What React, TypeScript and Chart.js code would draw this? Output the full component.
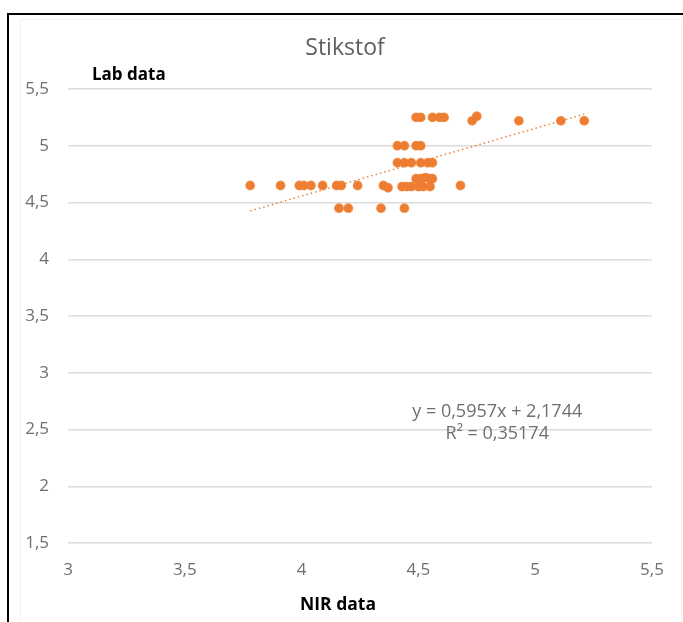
import React, { useEffect, useRef } from "react";
import { Chart, registerables } from "chart.js";

Chart.register(...registerables);

const TITLE = "Stikstof";
const X_TITLE = "NIR data";
const Y_TITLE = "Lab data";
const EQUATION = "y = 0,5957x + 2,1744";
const R_SQUARED = "R² = 0,35174";
const TREND_SLOPE = 0.5957;
const TREND_INTERCEPT = 2.1744;

const nirValues = [
  3.78, 3.91, 3.99, 4.01, 4.04, 4.09, 4.15, 4.17, 4.24, 4.35, 4.37, 4.43, 4.45, 4.47, 4.5, 4.52, 4.55, 4.68,
  4.16, 4.2, 4.34, 4.44,
  4.49, 4.51, 4.53, 4.55, 4.56,
  4.41, 4.44, 4.47, 4.51, 4.54, 4.56,
  4.41, 4.44, 4.49, 4.51,
  4.49, 4.51, 4.56, 4.59, 4.61, 4.75,
  4.73, 4.93, 5.11, 5.21,
];
const labValues = [
  4.65, 4.65, 4.65, 4.65, 4.65, 4.65, 4.65, 4.65, 4.65, 4.65, 4.63, 4.64, 4.64, 4.64, 4.64, 4.64, 4.64, 4.65,
  4.45, 4.45, 4.45, 4.45,
  4.71, 4.71, 4.72, 4.71, 4.71,
  4.85, 4.85, 4.85, 4.85, 4.85, 4.85,
  5.0, 5.0, 5.0, 5.0,
  5.25, 5.25, 5.25, 5.25, 5.25, 5.26,
  5.22, 5.22, 5.22, 5.22,
];

const X_MIN = 3;
const X_MAX = 5.5;
const Y_MIN = 1.5;
const Y_MAX = 5.5;
const TICK_STEP = 0.5;

const ORANGE = "#ED7D31";
const GREY_TEXT = "#6f6f6f";
const GRID = "#dcdcdc";

const fmt = (v: number) => String(v).replace(".", ",");

const textPlugin = {
  id: "extraTexts",
  afterDraw(chart: any) {
    const { ctx, chartArea } = chart;
    const { left, right, top, bottom } = chartArea;
    ctx.save();
    ctx.textBaseline = "middle";
    ctx.textAlign = "center";
    ctx.fillStyle = "#5f5f5f";
    ctx.font = '23px "Open Sans"';
    ctx.fillText(TITLE, (left + right) / 2 - 15, top - 41);
    ctx.fillStyle = "#000";
    ctx.font = 'bold 17px "Open Sans"';
    ctx.textAlign = "left";
    ctx.fillText(Y_TITLE, left + 24, top - 14);
    ctx.textAlign = "center";
    ctx.font = 'bold 17.5px "Open Sans"';
    ctx.fillText(X_TITLE, (left + right) / 2 - 22, bottom + 62);
    ctx.font = '18px "Open Sans"';
    ctx.fillStyle = GREY_TEXT;
    const cx = left + (right - left) * 0.735;
    ctx.fillText(EQUATION, cx, top + 323);
    ctx.fillText(R_SQUARED, cx, top + 345);
    ctx.restore();
  },
};

export default function App() {
  const ref = useRef<HTMLCanvasElement | null>(null);

  useEffect(() => {
    if (!ref.current) return;
    const points = nirValues.map((x, i) => ({ x, y: labValues[i] }));
    const xLo = Math.min(...nirValues);
    const xHi = Math.max(...nirValues);
    const trend = [
      { x: xLo, y: TREND_SLOPE * xLo + TREND_INTERCEPT },
      { x: xHi, y: TREND_SLOPE * xHi + TREND_INTERCEPT },
    ];
    const chart = new Chart(ref.current, {
      type: "scatter",
      data: {
        datasets: [
          {
            type: "line",
            label: "Trend",
            data: trend,
            borderColor: ORANGE,
            borderWidth: 1.5,
            borderDash: [1.5, 3],
            pointRadius: 0,
            fill: false,
            order: 2,
          } as any,
          {
            label: "Lab data",
            data: points,
            backgroundColor: ORANGE,
            borderColor: "rgba(237,125,49,0.75)",
            borderWidth: 1.2,
            pointRadius: 4.3,
            order: 1,
          },
        ],
      },
      options: {
        responsive: false,
        animation: false,
        layout: { padding: { left: 0, top: 89, right: 31, bottom: 0 } },
        plugins: {
          legend: { display: false },
          tooltip: { enabled: false },
          title: { display: false },
        },
        scales: {
          x: {
            type: "linear",
            min: X_MIN,
            max: X_MAX,
            grid: { display: false, drawTicks: false },
            border: { display: false },
            ticks: {
              stepSize: TICK_STEP,
              padding: 17,
              color: GREY_TEXT,
              font: { family: "Open Sans", size: 17 },
              callback: (v: any) => fmt(Number(v)),
            },
            afterFit: (s: any) => {
              s.height = 79;
            },
          },
          y: {
            type: "linear",
            min: Y_MIN,
            max: Y_MAX,
            grid: { color: GRID, lineWidth: 1.5, drawTicks: false },
            border: { display: false },
            ticks: {
              stepSize: TICK_STEP,
              padding: 19,
              color: GREY_TEXT,
              font: { family: "Open Sans", size: 17 },
              callback: (v: any) => fmt(Number(v)),
            },
            afterFit: (s: any) => {
              s.width = 68;
            },
          },
        },
      },
      plugins: [textPlugin],
    });
    return () => chart.destroy();
  }, []);

  return (
    <div
      style={{
        position: "absolute",
        left: 0,
        top: 0,
        width: 683,
        height: 622,
        overflow: "hidden",
        background: "#fff",
      }}
    >
      <canvas ref={ref} width={683} height={622} style={{ display: "block", width: 683, height: 622 }} />
      <div
        style={{
          position: "absolute",
          left: 20,
          top: 19,
          width: 660,
          height: 700,
          border: "1px solid #f3f3f3",
          pointerEvents: "none",
        }}
      />
      <div
        style={{
          position: "absolute",
          left: 7,
          top: 13,
          width: 800,
          height: 800,
          borderLeft: "2px solid #000",
          borderTop: "2px solid #000",
          pointerEvents: "none",
        }}
      />
    </div>
  );
}
